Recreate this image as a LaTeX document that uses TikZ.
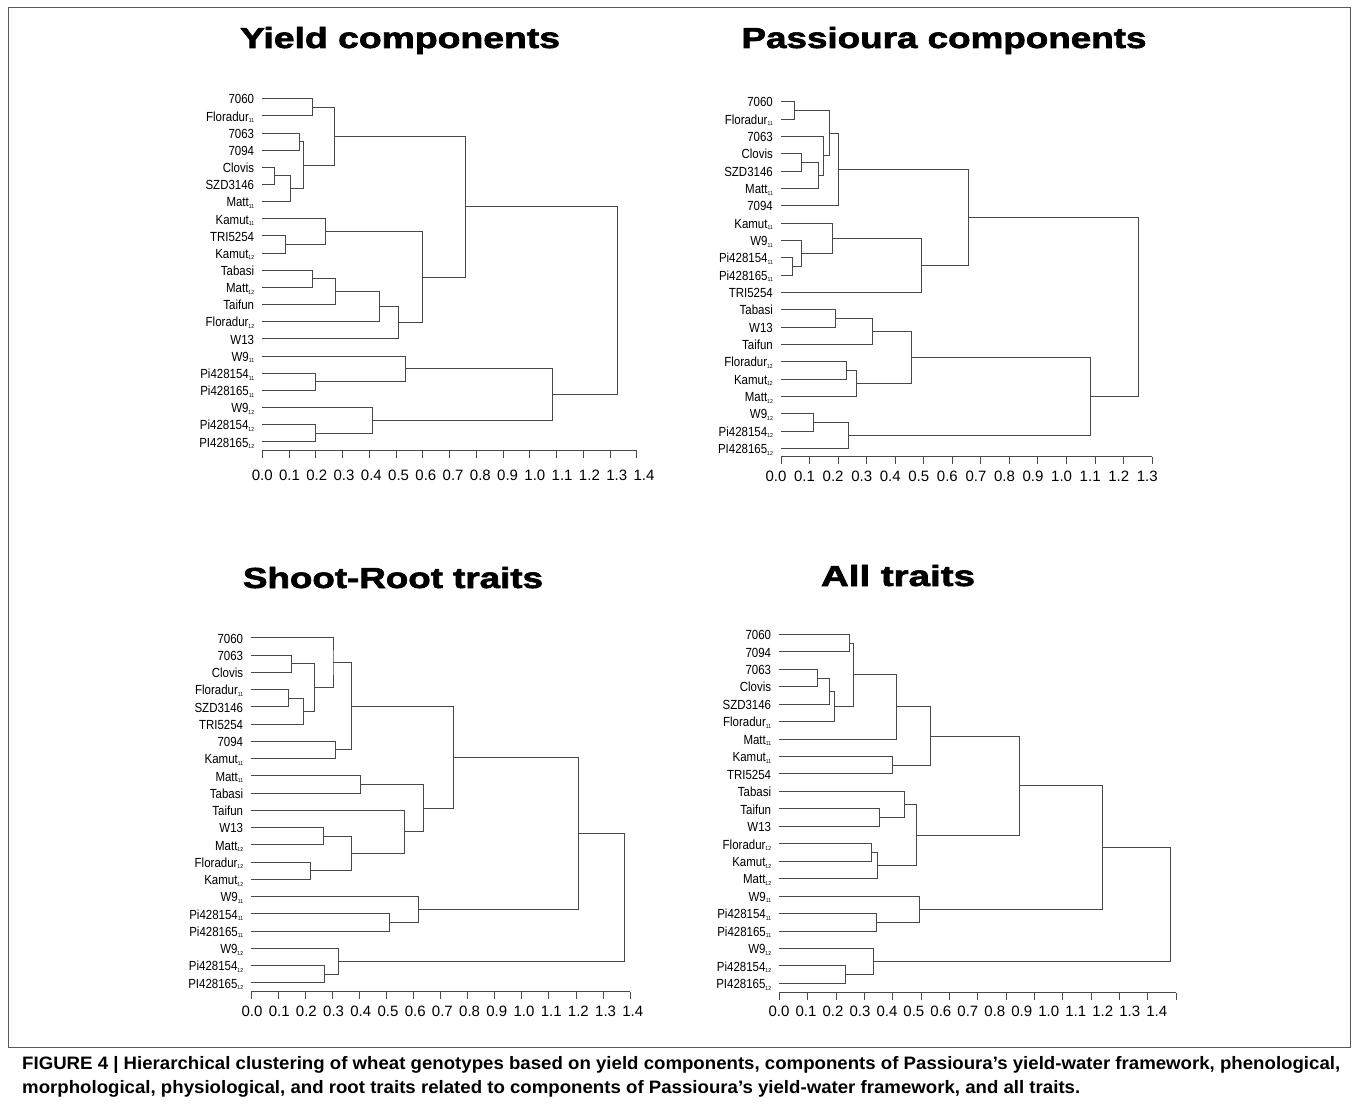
\documentclass[tikz,border=0pt]{standalone}
\usepackage{fontspec}
\usepackage{graphicx}
\setmainfont{Liberation Sans}
\newfontfamily\ttlfont[BoldFeatures={FakeBold=2}]{Liberation Sans}
\usetikzlibrary{calc}
\newcommand\sbs[1]{\raisebox{-1.6pt}{\fontsize{5.8}{6}\selectfont#1}}
\tikzset{
  dl/.style={draw=black!72,line width=0.85pt},
  axl/.style={draw=black!72,line width=0.85pt},
  frm/.style={draw=black!65,line width=1pt},
  lbl/.style={anchor=base east,inner sep=0pt,font=\fontsize{13.2}{14}\selectfont},
  tkl/.style={anchor=base,inner sep=0pt,font=\fontsize{15}{16}\selectfont},
  ttl/.style={anchor=base,inner sep=0pt,font=\fontsize{29}{30}\selectfont\ttlfont\bfseries},
  captxt/.style={anchor=base west,inner sep=0pt,font=\fontsize{18}{20}\selectfont\bfseries},
}
\newcommand\lf[3]{%
  \coordinate (#1) at (\pzero,{\ystart+(#2-1)*\dy});
  \node[lbl] (#1t) at ([xshift=-8pt,yshift=-5.3pt]#1) {\scalebox{0.87}[1]{#3}};
}
\newcommand\mrg[4]{%
  \path let \p1=(#2), \p2=(#3) in coordinate (#1) at ({(\pzero+#4*\punit)*1pt},{0.5*(\y1+\y2)});
  \draw[dl] (#2) -| (#1) |- (#3);
}
\begin{document}
\begin{tikzpicture}[x=1pt,y=-1pt]
\useasboundingbox (0,0) rectangle (1358,1105);
\draw[frm] (8,8) rectangle (1350,1047);

% ---------------- Panel 1: Yield components
\node[ttl] (t1) at (400,48) {\resizebox{320pt}{\height}{Yield components}};
\def\pzero{262.3}\def\punit{267.4}\def\ystart{98.7}\def\dy{17.15}
\lf{p1l1}{1}{7060}
\lf{p1l2}{2}{Floradur\sbs{11}}
\lf{p1l3}{3}{7063}
\lf{p1l4}{4}{7094}
\lf{p1l5}{5}{Clovis}
\lf{p1l6}{6}{SZD3146}
\lf{p1l7}{7}{Matt\sbs{11}}
\lf{p1l8}{8}{Kamut\sbs{11}}
\lf{p1l9}{9}{TRI5254}
\lf{p1l10}{10}{Kamut\sbs{12}}
\lf{p1l11}{11}{Tabasi}
\lf{p1l12}{12}{Matt\sbs{12}}
\lf{p1l13}{13}{Taifun}
\lf{p1l14}{14}{Floradur\sbs{12}}
\lf{p1l15}{15}{W13}
\lf{p1l16}{16}{W9\sbs{11}}
\lf{p1l17}{17}{Pi428154\sbs{11}}
\lf{p1l18}{18}{Pi428165\sbs{11}}
\lf{p1l19}{19}{W9\sbs{12}}
\lf{p1l20}{20}{Pi428154\sbs{12}}
\lf{p1l21}{21}{PI428165\sbs{12}}
\mrg{a1}{p1l1}{p1l2}{0.188}
\mrg{a2}{p1l3}{p1l4}{0.138}
\mrg{a3}{p1l5}{p1l6}{0.045}
\mrg{a4}{a3}{p1l7}{0.105}
\mrg{a5}{a2}{a4}{0.155}
\mrg{a6}{a1}{a5}{0.268}
\mrg{a7}{p1l9}{p1l10}{0.087}
\mrg{a8}{p1l8}{a7}{0.236}
\mrg{a9}{p1l11}{p1l12}{0.188}
\mrg{a10}{a9}{p1l13}{0.273}
\mrg{a11}{a10}{p1l14}{0.438}
\mrg{a12}{a11}{p1l15}{0.510}
\mrg{a13}{a8}{a12}{0.598}
\mrg{a14}{a6}{a13}{0.759}
\mrg{a15}{p1l17}{p1l18}{0.198}
\mrg{a16}{p1l16}{a15}{0.535}
\mrg{a17}{p1l20}{p1l21}{0.198}
\mrg{a18}{p1l19}{a17}{0.413}
\mrg{a19}{a16}{a18}{1.085}
\mrg{a20}{a14}{a19}{1.328}
\coordinate (p1a0) at (\pzero,450.7);
\coordinate (p1a1) at ({\pzero+1.4*\punit},450.7);
\draw[axl] (p1a0) -- (p1a1);
\foreach \i in {0,...,14} \draw[axl] ({\pzero+\i*0.1*\punit},450.7) -- ++(0,7);
\foreach \t [count=\i from 0] in {0.0,0.1,0.2,0.3,0.4,0.5,0.6,0.7,0.8,0.9,1.0,1.1,1.2,1.3,1.4}
  \node[tkl] (p1n\i) at ({262.3+\i*27.26},480.5) {\t};

% ---------------- Panel 2: Passioura components
\node[ttl] (t2) at (944,48) {\resizebox{405pt}{\height}{Passioura components}};
\def\pzero{781}\def\punit{285.4}\def\ystart{101.7}\def\dy{17.33}
\lf{p2l1}{1}{7060}
\lf{p2l2}{2}{Floradur\sbs{11}}
\lf{p2l3}{3}{7063}
\lf{p2l4}{4}{Clovis}
\lf{p2l5}{5}{SZD3146}
\lf{p2l6}{6}{Matt\sbs{11}}
\lf{p2l7}{7}{7094}
\lf{p2l8}{8}{Kamut\sbs{11}}
\lf{p2l9}{9}{W9\sbs{11}}
\lf{p2l10}{10}{Pi428154\sbs{11}}
\lf{p2l11}{11}{Pi428165\sbs{11}}
\lf{p2l12}{12}{TRI5254}
\lf{p2l13}{13}{Tabasi}
\lf{p2l14}{14}{W13}
\lf{p2l15}{15}{Taifun}
\lf{p2l16}{16}{Floradur\sbs{12}}
\lf{p2l17}{17}{Kamut\sbs{12}}
\lf{p2l18}{18}{Matt\sbs{12}}
\lf{p2l19}{19}{W9\sbs{12}}
\lf{p2l20}{20}{Pi428154\sbs{12}}
\lf{p2l21}{21}{PI428165\sbs{12}}
\mrg{b1}{p2l1}{p2l2}{0.048}
\mrg{b2}{p2l4}{p2l5}{0.071}
\mrg{b3}{b2}{p2l6}{0.130}
\mrg{b4}{p2l3}{b3}{0.150}
\mrg{b5}{b1}{b4}{0.169}
\mrg{b6}{b5}{p2l7}{0.201}
\mrg{b7}{p2l10}{p2l11}{0.040}
\mrg{b8}{p2l9}{b7}{0.071}
\mrg{b9}{p2l8}{b8}{0.181}
\mrg{b10}{b9}{p2l12}{0.492}
\mrg{b11}{b6}{b10}{0.656}
\mrg{b12}{p2l13}{p2l14}{0.190}
\mrg{b13}{b12}{p2l15}{0.319}
\mrg{b14}{p2l16}{p2l17}{0.230}
\mrg{b15}{b14}{p2l18}{0.264}
\mrg{b16}{b13}{b15}{0.457}
\mrg{b17}{p2l19}{p2l20}{0.114}
\mrg{b18}{b17}{p2l21}{0.236}
\mrg{b19}{b16}{b18}{1.084}
\mrg{b20}{b11}{b19}{1.252}
\coordinate (p2a0) at (\pzero,456.7);
\coordinate (p2a1) at ({\pzero+1.3*\punit},456.7);
\draw[axl] (p2a0) -- (p2a1);
\foreach \i in {0,...,13} \draw[axl] ({\pzero+\i*0.1*\punit},456.7) -- ++(0,7);
\foreach \t [count=\i from 0] in {0.0,0.1,0.2,0.3,0.4,0.5,0.6,0.7,0.8,0.9,1.0,1.1,1.2,1.3}
  \node[tkl] (p2n\i) at ({776+\i*28.56},481) {\t};

% ---------------- Panel 3: Shoot-Root traits
\node[ttl] (t3) at (393,588) {\resizebox{300pt}{\height}{Shoot-Root traits}};
\def\pzero{251.3}\def\punit{270.5}\def\ystart{637.7}\def\dy{17.25}
\lf{p3l1}{1}{7060}
\lf{p3l2}{2}{7063}
\lf{p3l3}{3}{Clovis}
\lf{p3l4}{4}{Floradur\sbs{11}}
\lf{p3l5}{5}{SZD3146}
\lf{p3l6}{6}{TRI5254}
\lf{p3l7}{7}{7094}
\lf{p3l8}{8}{Kamut\sbs{11}}
\lf{p3l9}{9}{Matt\sbs{11}}
\lf{p3l10}{10}{Tabasi}
\lf{p3l11}{11}{Taifun}
\lf{p3l12}{12}{W13}
\lf{p3l13}{13}{Matt\sbs{12}}
\lf{p3l14}{14}{Floradur\sbs{12}}
\lf{p3l15}{15}{Kamut\sbs{12}}
\lf{p3l16}{16}{W9\sbs{11}}
\lf{p3l17}{17}{Pi428154\sbs{11}}
\lf{p3l18}{18}{Pi428165\sbs{11}}
\lf{p3l19}{19}{W9\sbs{12}}
\lf{p3l20}{20}{Pi428154\sbs{12}}
\lf{p3l21}{21}{PI428165\sbs{12}}
\mrg{c1}{p3l2}{p3l3}{0.150}
\mrg{c2}{p3l4}{p3l5}{0.137}
\mrg{c3}{c2}{p3l6}{0.193}
\mrg{c4}{c1}{c3}{0.233}
\mrg{c5}{p3l1}{c4}{0.302}
\mrg{c6}{p3l7}{p3l8}{0.311}
\mrg{c7}{c5}{c6}{0.371}
\mrg{c8}{p3l9}{p3l10}{0.403}
\mrg{c9}{p3l12}{p3l13}{0.266}
\mrg{c10}{p3l14}{p3l15}{0.218}
\mrg{c11}{c9}{c10}{0.371}
\mrg{c12}{p3l11}{c11}{0.567}
\mrg{c13}{c8}{c12}{0.637}
\mrg{c14}{c7}{c13}{0.746}
\mrg{c15}{p3l17}{p3l18}{0.510}
\mrg{c16}{p3l16}{c15}{0.617}
\mrg{c17}{c14}{c16}{1.210}
\mrg{c18}{p3l20}{p3l21}{0.269}
\mrg{c19}{p3l19}{c18}{0.323}
\mrg{c20}{c17}{c19}{1.379}
\coordinate (p3a0) at (\pzero,991.7);
\coordinate (p3a1) at ({\pzero+1.4*\punit},991.7);
\draw[axl] (p3a0) -- (p3a1);
\foreach \i in {0,...,14} \draw[axl] ({\pzero+\i*0.1*\punit},991.7) -- ++(0,7);
\foreach \t [count=\i from 0] in {0.0,0.1,0.2,0.3,0.4,0.5,0.6,0.7,0.8,0.9,1.0,1.1,1.2,1.3,1.4}
  \node[tkl] (p3n\i) at ({252+\i*27.2},1016.5) {\t};

% ---------------- Panel 4: All traits
\node[ttl] (t4) at (898,586) {\resizebox{154pt}{\height}{All traits}};
\def\pzero{779.3}\def\punit{283.3}\def\ystart{634.3}\def\dy{17.45}
\lf{p4l1}{1}{7060}
\lf{p4l2}{2}{7094}
\lf{p4l3}{3}{7063}
\lf{p4l4}{4}{Clovis}
\lf{p4l5}{5}{SZD3146}
\lf{p4l6}{6}{Floradur\sbs{11}}
\lf{p4l7}{7}{Matt\sbs{11}}
\lf{p4l8}{8}{Kamut\sbs{11}}
\lf{p4l9}{9}{TRI5254}
\lf{p4l10}{10}{Tabasi}
\lf{p4l11}{11}{Taifun}
\lf{p4l12}{12}{W13}
\lf{p4l13}{13}{Floradur\sbs{12}}
\lf{p4l14}{14}{Kamut\sbs{12}}
\lf{p4l15}{15}{Matt\sbs{12}}
\lf{p4l16}{16}{W9\sbs{11}}
\lf{p4l17}{17}{Pi428154\sbs{11}}
\lf{p4l18}{18}{Pi428165\sbs{11}}
\lf{p4l19}{19}{W9\sbs{12}}
\lf{p4l20}{20}{Pi428154\sbs{12}}
\lf{p4l21}{21}{PI428165\sbs{12}}
\mrg{d1}{p4l1}{p4l2}{0.247}
\mrg{d2}{p4l3}{p4l4}{0.135}
\mrg{d3}{d2}{p4l5}{0.176}
\mrg{d4}{d3}{p4l6}{0.196}
\mrg{d5}{d1}{d4}{0.261}
\mrg{d6}{d5}{p4l7}{0.414}
\mrg{d7}{p4l8}{p4l9}{0.399}
\mrg{d8}{d6}{d7}{0.534}
\mrg{d9}{p4l11}{p4l12}{0.354}
\mrg{d10}{p4l10}{d9}{0.442}
\mrg{d11}{p4l13}{p4l14}{0.325}
\mrg{d12}{d11}{p4l15}{0.347}
\mrg{d13}{d10}{d12}{0.485}
\mrg{d14}{d8}{d13}{0.848}
\mrg{d15}{p4l17}{p4l18}{0.344}
\mrg{d16}{p4l16}{d15}{0.495}
\mrg{d17}{d14}{d16}{1.140}
\mrg{d18}{p4l20}{p4l21}{0.233}
\mrg{d19}{p4l19}{d18}{0.332}
\mrg{d20}{d17}{d19}{1.382}
\coordinate (p4a0) at (\pzero,992.7);
\coordinate (p4a1) at ({\pzero+1.4*\punit},992.7);
\draw[axl] (p4a0) -- (p4a1);
\foreach \i in {0,...,14} \draw[axl] ({\pzero+\i*0.1*\punit},992.7) -- ++(0,7);
\foreach \t [count=\i from 0] in {0.0,0.1,0.2,0.3,0.4,0.5,0.6,0.7,0.8,0.9,1.0,1.1,1.2,1.3,1.4}
  \node[tkl] (p4n\i) at ({779+\i*26.98},1016.5) {\t};

% ---------------- Caption
\node[captxt] (cap1) at (22,1069.5) {\resizebox{1318pt}{\height}{FIGURE 4 | Hierarchical clustering of wheat genotypes based on yield components, components of Passioura’s yield-water framework, phenological,}};
\node[captxt] (cap2) at (22,1093) {\resizebox{1058pt}{\height}{morphological, physiological, and root traits related to components of Passioura’s yield-water framework, and all traits.}};
\end{tikzpicture}
\end{document}
